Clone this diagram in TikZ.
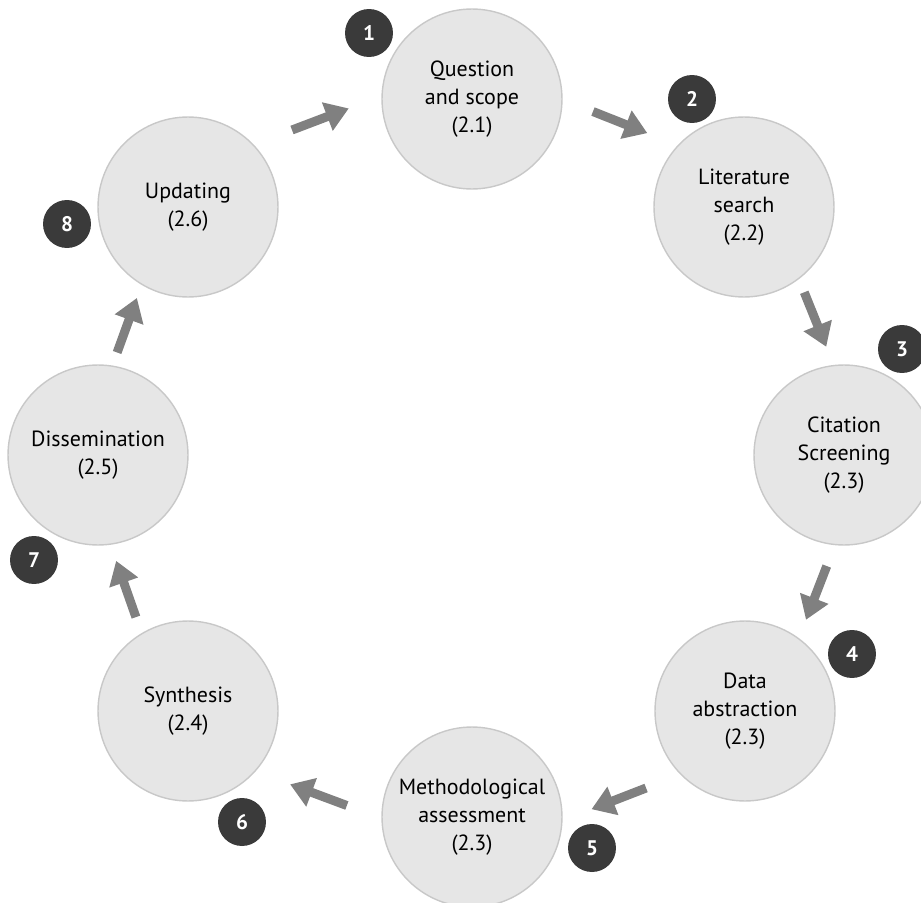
\documentclass[tikz,border=0pt]{standalone}
\usepackage{fontspec}
\setmainfont{PT Sans}
\usetikzlibrary{arrows.meta,calc}
\definecolor{stagefill}{HTML}{E6E6E6}
\definecolor{stageline}{HTML}{C8C8C8}
\definecolor{badgefill}{HTML}{3A3A3A}
\definecolor{flowgray}{HTML}{808080}

\begin{document}
\begin{tikzpicture}[x=0.02cm,y=-0.02cm]
		\tikzstyle{stage}=[circle,draw=stageline,line width=0.8pt,fill=stagefill,minimum size=3.6cm,inner sep=0pt,align=center,font=\fontsize{12.5}{16}\selectfont,execute at begin node={\rule{0pt}{15pt}}]
		\tikzstyle{badge}=[circle,fill=badgefill,text=white,minimum size=0.96cm,inner sep=0pt,font=\fontsize{12}{14}\selectfont\bfseries]
		\tikzstyle{flow}=[draw=flowgray,line width=0.18cm,-{Triangle[width=0.58cm,length=0.46cm]}]
		\useasboundingbox (0,0) rectangle (921,903);

		\node (qs) at (472,99) [stage] {Question\\and scope\\(2.1)};
		\node (lit) at (744,207) [stage] {Literature\\search\\(2.2)};
		\node (cit) at (844,455) [stage] {Citation\\Screening\\(2.3)};
		\node (dat) at (745,711) [stage] {Data\\abstraction\\(2.3)};
		\node (met) at (472,817) [stage] {Methodological\\assessment\\(2.3)};
		\node (syn) at (188,711) [stage] {Synthesis\\(2.4)};
		\node (dis) at (98,455) [stage] {Dissemination\\(2.5)};
		\node (upd) at (188,207) [stage] {Updating\\(2.6)};

		\node (n1) at (369,33) [badge] {1};
		\node (n2) at (692,99) [badge] {2};
		\node (n3) at (902,349) [badge] {3};
		\node (n4) at (852,654) [badge] {4};
		\node (n5) at (592,848) [badge] {5};
		\node (n6) at (242,822) [badge] {6};
		\node (n7) at (34,560) [badge] {7};
		\node (n8) at (67,224) [badge] {8};

		% arrows sit outside the ring, beside the line between two stages
		\draw [flow] ($(upd)!0.41!(qs)!0.70cm!90:(qs)$) -- ($(upd)!0.61!(qs)!0.70cm!90:(qs)$);
		\draw [flow] ($(qs)!0.40!(lit)!0.66cm!90:(lit)$) -- ($(qs)!0.60!(lit)!0.66cm!90:(lit)$);
		\draw [flow] ($(lit)!0.38!(cit)!0.48cm!90:(cit)$) -- ($(lit)!0.60!(cit)!0.48cm!90:(cit)$);
		\draw [flow] ($(cit)!0.40!(dat)!0.48cm!90:(dat)$) -- ($(cit)!0.61!(dat)!0.48cm!90:(dat)$);
		\draw [flow] ($(dat)!0.41!(met)!0.72cm!90:(met)$) -- ($(dat)!0.61!(met)!0.72cm!90:(met)$);
		\draw [flow] ($(met)!0.40!(syn)!0.66cm!90:(syn)$) -- ($(met)!0.60!(syn)!0.66cm!90:(syn)$);
		\draw [flow] ($(syn)!0.39!(dis)!0.36cm!90:(dis)$) -- ($(syn)!0.61!(dis)!0.36cm!90:(dis)$);
		\draw [flow] ($(dis)!0.39!(upd)!0.34cm!90:(upd)$) -- ($(dis)!0.61!(upd)!0.34cm!90:(upd)$);
	\end{tikzpicture}
\end{document}
